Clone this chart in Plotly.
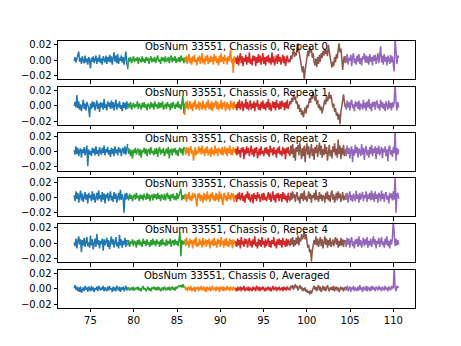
import numpy as np
import plotly.graph_objects as go
from plotly.subplots import make_subplots

# Frequency edges of the six coarse-channel segments (x axis units)
seg_edges = [73.12, 79.3, 85.9, 91.8, 97.95, 104.45, 110.62]
seg_colors = ["#1f77b4", "#2ca02c", "#ff7f0e", "#d62728", "#8c564b", "#9467bd"]

titles = [
    "ObsNum 33551, Chassis 0, Repeat 0",
    "ObsNum 33551, Chassis 0, Repeat 1",
    "ObsNum 33551, Chassis 0, Repeat 2",
    "ObsNum 33551, Chassis 0, Repeat 3",
    "ObsNum 33551, Chassis 0, Repeat 4",
    "ObsNum 33551, Chassis 0, Averaged",
]
x_ticks = [75, 80, 85, 90, 95, 100, 105, 110]
y_ticks = [-0.02, 0.0, 0.02]
y_ticktext = ["\u22120.02", "0.00", "0.02"]

VALUE_UNIT = 1e-3  # values below are in units of 1e-3

# Repeat 0
r0_blue = [-1, 4, -3, 2, 6, 11, -2, 3, -5, 5, -1, -4, 6, -3, 2, -6, 4, 0, -11, 3, -2, 5, -4, 1, 6, -5, 3, -2, 7, -4, 2, -6, 5, 1, -3, 6, -5, 4, -2, 7, -3, 5, -6, 3, 10, -2, 6, -4, 8, -5, 3, -1, 6, -3, 4, -6, 2, 11, -4, -9]
r0_green = [-12, 3, -2, 4, -4, 1, 5, -3, 2, -1, 4, -5, 3, 0, -3, 5, -2, 2, -4, 4, -1, 3, -5, 1, 5, -3, 2, -2, 4, -4, 3, 6, -2, 1, -5, 4, -1, 3, -3, 5, -2, 0, 4, -4, 2, 6, -3, 3, -1, 5, -4, 2, -2, 4, -3, 6, -1, 3, -4, 4]
r0_orange = [4, -3, 6, -5, 2, 8, -4, 3, -6, 5, -2, 7, -3, 1, -7, 4, -2, 6, -5, 3, 9, -4, 2, -6, 5, -1, 7, -5, 3, -3, 6, -2, 4, -6, 8, -1, 5, -4, 2, -7, 6, -3, 9, -2, 4, -5, 7, -1, 3, -6, 5, -2, 6, 14, -4, 2, -17, 5, -3, 4]
r0_red = [3, -5, 6, -7, 2, 9, -4, 5, -8, 3, -2, 7, -6, 4, -3, 10, -5, 2, -7, 6, -1, 5, -8, 4, -4, 8, -3, 6, -6, 2, 9, -5, 4, -7, 5, -2, 7, -4, 3, -6, 10, -3, 5, -7, 2, 6, -5, 8, -2, 4, -6, 3, 7, -4, 5, -8, 2, 6, -3, 1]
r0_brown = [2, -3, 6, 1, 9, 15, 4, 10, 6, 14, 22, 12, 4, -5, -10, -16, -8, -26, -14, -4, 6, 12, 5, 18, 10, 14, 3, 9, -2, -7, 2, -9, 4, -5, 7, -2, 9, 3, 12, 6, 15, 8, 13, 5, 20, 9, 4, -3, -10, -2, -8, 4, -3, 8, 2, 14, 22, 10, 15, 3, -13, 0, 5, -4]
r0_purple = [5, -3, 8, -6, 3, -1, 7, -8, 4, 9, -4, 2, -6, 6, -2, 8, -5, 3, -7, 5, 1, 9, -3, 6, -4, 5, -6, 8, -2, 4, -7, 6, -1, 7, -5, 3, 9, -4, 5, 18, -3, 6, -6, 8, -2, 4, -7, 6, 1, -5, 7, -3, 5, -8, -15, 30, 4, -5, 6, 3]

# Repeat 1
r1_blue = [0, 5, -2, 14, -3, 6, -5, 2, -7, 4, 8, -4, 3, -6, 5, 1, -3, -15, 3, -4, 6, -2, 5, -6, 1, 7, -4, 3, -8, 5, -2, 4, -5, 9, -3, 2, -6, 6, -1, 4, -4, 7, -3, 5, -6, 2, 8, -5, 3, -2, 6, -4, 1, -7, 5, -3, 4, -5, 6, -2]
r1_green = [-4, 3, -2, 5, -5, 1, 4, -3, 2, -1, 6, -4, 3, 0, -5, 4, -2, 5, -3, 2, -6, 3, 1, -4, 5, -2, 3, -5, 6, -1, 2, -4, 5, -3, 4, -2, 6, -5, 1, 3, -4, 5, -1, 2, -6, 4, -3, 5, 0, -4, 3, -2, 6, -3, 2, -5, 4, 13, -10, 3]
r1_orange = [-12, 5, -3, 7, -5, 2, 6, -4, 3, -7, 5, -1, 8, -5, 2, -3, 6, -6, 4, 1, -5, 7, -3, 2, -6, 5, -2, 8, -4, 3, -5, 6, -7, 4, -2, 3, 7, -4, 5, -6, 2, -3, 8, -5, 4, -1, 6, -7, 3, 5, -4, 2, -6, 7, -2, 4, -5, 6, -3, 2]
r1_red = [2, -6, 5, -3, 8, -5, 1, 6, -7, 3, -2, 9, -4, 5, -6, 2, 7, -5, 3, -3, 6, -7, 4, -1, 8, -5, 2, -6, 5, -3, 7, -4, 3, -6, 5, -2, 9, -5, 4, -7, 2, 6, -3, 5, -6, 8, -2, 3, -5, 6, -4, 7, -1, 4, -6, 5, -3, 8, -4, 2]
r1_brown = [0, 6, 2, 10, 5, 15, 8, 12, 3, 6, -4, 2, -8, -3, -12, -6, -15, -9, -2, -10, 1, -3, 6, 10, 4, 14, 9, 18, 12, 7, 13, 2, 8, -3, 2, -6, -1, -10, -4, 3, 8, 2, 13, 6, 10, 18, 9, 14, 4, -2, 3, -8, -3, -13, -9, -18, -11, -24, -8, 2, 6, 15, 4, -2]
r1_purple = [3, -5, 7, -2, 5, -6, 4, 8, -3, 2, -7, 6, -1, 5, -4, 7, -6, 3, 1, -5, 8, -3, 4, -6, 6, -2, 9, -4, 3, -7, 5, -1, 6, -5, 4, 7, -3, 2, -6, 8, -2, 5, -4, 3, -7, 6, 1, -5, 7, -3, 4, -6, 5, -2, 6, 30, 4, -6, 5, -2]

# Repeat 2
r2_blue = [2, -4, 7, -3, 5, -6, 1, 4, -8, 3, -2, 6, -5, 2, 8, -19, 3, -4, 1, -6, 5, -2, 4, -5, 7, -3, 2, -6, 6, 0, -4, 5, -2, 8, -5, 3, -1, 6, -4, 2, -7, 5, -3, 4, -6, 7, -2, 3, -5, 6, -1, 4, -6, 2, 5, -3, 7, -4, 3, 10]
r2_green = [6, -3, 4, -6, 2, -9, 3, -2, 5, -4, 1, 4, -5, 3, -8, 2, -1, 5, -3, 4, -6, 2, 3, -4, 6, -2, 1, -5, 4, -3, 5, -7, 2, 6, -4, 3, -2, 5, -6, 1, 4, -3, 6, -9, 2, 3, -5, 4, -1, 5, -4, 2, -6, 3, 5, -2, 4, -5, 6, 3]
r2_orange = [3, -4, 6, -2, 5, -6, 4, 7, -3, 2, -12, 4, 6, -5, 1, -3, 7, -1, 5, -4, 8, -2, 3, -6, 5, -2, 7, -5, 1, 4, -7, 6, -3, 2, -5, 8, -2, 4, -6, 5, -1, 3, -4, 6, -5, 2, 7, -3, 4, -6, 5, -2, 8, -4, 3, -5, 6, -1, 4, -3]
r2_red = [4, -5, 7, -3, 2, -8, 5, -1, 6, -10, 3, -4, 7, -2, 5, -6, 1, 8, -4, 3, -7, 5, -2, 6, -9, 2, 4, -5, 7, -3, 1, -6, 5, -2, 6, -4, 3, -7, 8, -1, 4, -5, 6, -3, 2, -8, 5, -2, 7, -4, 1, -6, 6, -3, 4, -10, 5, -2, 6, -4]
r2_brown = [2, -6, 8, -3, 10, -8, 4, -12, 6, 0, 9, -5, 12, -2, -10, 5, -6, 8, -14, 3, 11, -4, 7, -9, 2, 10, -6, 4, -11, 6, -2, 9, -7, 5, 12, -4, 8, -8, 3, -5, 10, -3, 6, -12, 4, 9, -6, 2, -9, 7, -1, 11, -5, 4, -8, 16, -3, 8, -10, 5, -4, 9, -6, 2]
r2_purple = [4, -6, 8, -3, 5, -9, 2, 7, -14, 3, -5, 9, -2, 6, -8, 4, 1, -6, 10, -4, 5, -11, 3, 7, -5, 2, -8, 6, -3, 9, -6, 4, -2, 7, -10, 5, -3, 8, -5, 2, 6, -9, 4, -1, 7, -6, 3, -13, 5, 8, -4, 2, -7, 6, -2, 30, -12, 5, -4, 3]

# Repeat 3
r3_blue = [3, -5, 8, -2, 6, -7, 1, 9, -4, 5, -6, 2, 7, -3, 4, -8, 6, -1, 3, -5, 8, -3, 5, -7, 2, 6, -4, 9, -2, 3, -6, 7, -3, 5, -8, 4, -1, 6, -5, 3, 8, -4, 2, -6, 7, -2, 5, -7, 3, 6, -4, 10, -3, 4, -2, -20, 5, -3, 6, -2]
r3_green = [2, -4, 5, -2, 3, -5, 1, 4, -3, 6, -1, 2, -5, 4, -2, 3, -4, 5, 0, -3, 6, -2, 4, -5, 2, 3, -4, 5, -1, 4, -3, 6, -2, 3, -5, 4, 1, -3, 5, -4, 2, 6, -2, 3, -5, 4, -1, 5, -3, 2, -4, 6, -2, 3, 5, 11, -4, 3, -2, 4]
r3_orange = [-3, 5, -6, 4, -2, 7, -4, 2, -5, 6, -1, 3, 5, -4, -12, 5, -1, 6, -5, 3, 1, -7, 6, -3, 4, -5, 8, -2, 3, -6, 5, -1, 7, -4, 2, -5, 6, -3, 4, -6, 8, -2, 5, -3, -10, 4, 6, -4, 2, -5, 7, -2, 3, -4, 6, -1, 5, -6, 3, -2]
r3_red = [3, -6, 5, -2, 7, -4, 1, 6, -5, 2, -7, 4, -1, 8, -3, 5, -6, 2, 4, -8, 6, -2, 3, -5, 7, -1, 4, -6, 2, 5, -4, 6, -3, 1, -5, 4, 7, -3, 5, -6, 2, 8, -4, 3, -7, 5, -1, 6, -5, 3, 4, -6, 7, -2, 5, -4, 2, -7, 6, -3]
r3_brown = [2, -5, 6, -3, 8, -1, 4, -6, 3, 7, -4, 1, -8, 5, -2, 6, -5, 9, -3, 2, -6, 4, 8, -2, 5, -7, 3, -1, 6, -4, 10, -3, 2, -6, 7, -2, 4, -5, 3, 1, -7, 6, -2, 8, -4, 3, -6, 5, 9, -3, 4, -7, 2, 6, -4, 8, -1, 5, -6, 3, 7, -4, 2, -3]
r3_purple = [5, -3, 6, -7, 2, 8, -4, 3, -6, 5, 1, -5, 9, -2, 4, -7, 6, -3, 2, 7, -5, 3, -1, 8, -6, 4, -2, 6, -4, 9, -3, 5, -6, 8, -2, 4, -7, 6, 3, -5, 9, -2, 5, -6, 4, 7, -3, 2, -8, 6, -1, 5, -4, 8, -3, 30, -20, 4, 6, -2]

# Repeat 4
r4_blue = [1, -4, 6, -7, 3, 9, -2, 5, -12, 4, -3, 7, -5, 2, 8, -4, 1, -6, 10, -3, 5, -8, 2, 6, -5, 12, -2, 4, -7, 3, -1, 6, -10, 5, -3, 2, 7, -5, 4, -8, 3, 9, -2, 5, -6, 2, 8, -4, 1, -7, 11, -3, 5, -6, 3, -2, 7, -5, 4, 2]
r4_green = [-3, 4, -5, 2, -1, 5, -4, 3, 1, -6, 4, -2, 5, -3, 2, -5, 6, -1, 3, -4, 5, -2, 1, -5, 4, -3, 6, -2, 3, -4, 5, -1, 2, -5, 4, -3, 6, -2, 1, -4, 5, -3, 3, -1, 6, -5, 2, 4, -3, 5, -2, 3, -4, 5, 14, -17, 4, -2, 3, -1]
r4_orange = [5, -4, 7, -2, 3, -6, 6, -1, 4, -7, 2, 5, -3, 8, -5, 1, -4, 6, -2, 3, -6, 7, -3, 2, 5, -5, 4, -1, 6, -7, 3, -2, 5, -4, 7, -3, 2, -6, 6, -1, 4, -5, 8, -2, 3, -6, 5, -3, 7, -4, 2, -5, 6, -2, 4, -7, 5, -1, 3, -4]
r4_red = [2, -5, 6, -3, 4, -7, 8, -2, 3, -5, 6, -1, 5, -6, 2, 7, -4, 3, -6, 5, -2, 9, -4, 1, -7, 6, -3, 4, -5, 8, -2, 3, -6, 5, -4, 2, 7, -5, 3, -6, 4, -1, 8, -4, 2, -7, 5, -2, 6, -3, 4, -6, 7, -2, 3, -5, 6, -4, 5, -2]
r4_brown = [3, -4, 6, -2, 8, -5, 4, -3, 7, -1, 10, -3, 7, 2, 12, 5, 9, 16, 5, 12, 3, -6, -2, -12, -8, -24, -10, -4, 4, -2, 9, -3, 6, -5, 2, 8, -4, 5, -7, 3, 9, -2, 6, -6, 4, -3, 7, -5, 2, 5, -4, 3, 8, -2, 6, -6, 3, -4, 7, -3, 5, -5, 4, 2]
r4_purple = [4, -5, 7, -2, 6, -6, 3, 8, -4, 2, -7, 5, -1, 6, -5, 9, -3, 4, -6, 2, 7, -4, 5, -2, 8, -6, 3, -3, 6, -5, 4, 9, -2, 5, -7, 3, -1, 7, -5, 4, 8, -3, 2, -6, 6, -2, 9, -4, 3, -7, 5, -2, 6, 30, 5, -4, 6, -3, 4, -2]

# Averaged
avg_blue = [1, 5, -1, 3, -3, 2, -4, 3, -5, 0, 2, -3, 4, -1, 2, -4, 3, 0, -3, 4, -2, 2, -4, 1, -1, 3, -3, 4, 0, -2, 2, -1, 4, -3, 2, 0, -3, 3, -2, 4, -1, 1, -4, 3, -2, 2, -3, 4, 1, -2, 3, -4, 2, -1, 3, -3, 1, 4, -2, 2]
avg_green = [-1, 2, -2, 1, 2, -2, 3, -2, 0, 2, -1, 3, -2, 1, -3, 2, 3, -1, 1, -3, 0, 3, -2, 1, -3, 2, 0, 3, -1, 2, -2, 3, -1, 2, -3, 1, 2, -2, 3, 0, -2, 2, -1, 3, -2, 1, 3, -1, 2, -2, 3, 1, 2, 4, 3, 5, 2, 6, 2, 4]
avg_orange = [3, -1, 2, -3, 3, 0, -2, 4, -3, 1, -2, 3, -4, 2, 0, 3, -3, 2, -1, 4, -2, 0, 3, -3, 2, -4, 3, 0, -2, 3, -3, 1, 4, -2, 0, 2, -3, 3, -1, 2, -4, 3, 1, -2, 3, -3, 2, 0, -2, 4, -1, 2, -3, 3, 0, -2, 3, -1, 2, -3]
avg_red = [1, -3, 3, -2, 0, 3, -3, 2, -1, 4, -3, 0, 2, -2, 3, -3, 1, 0, -3, 3, -1, 2, -3, 4, 0, -2, 3, -3, 2, -1, 3, 0, -3, 2, -2, 1, 3, -2, 2, -3, 1, 4, -2, 0, 3, -3, 2, -1, 3, -2, 0, 2, -3, 3, -1, 2, -2, 3, 0, -1]
avg_brown = [2, -2, 4, 1, 5, -1, 3, 6, 1, 4, -2, 2, 5, 0, 3, -3, 1, -2, 2, -4, -1, -5, -3, -7, -2, -6, -1, 1, 4, -1, 3, -3, 2, 5, -2, 3, -4, 1, 4, -2, 3, -3, 2, 5, 0, -3, 2, -1, 3, -2, 4, -3, 1, 3, -2, 2, -4, 1, 3, -1, 2, -3, 1, 0]
avg_purple = [3, -2, 4, -3, 1, 3, -4, 2, -1, 4, -3, 2, 0, -3, 3, -2, 5, -1, 2, -4, 3, 0, -2, 4, -3, 2, 1, -3, 3, -2, 4, -1, 2, -3, 3, 1, -2, 4, -1, 2, -3, 3, 0, -2, 4, -1, 2, -3, 3, 1, -2, 4, 1, 2, 30, 1, -3, 4, 2, 3]

panels = [
    [r0_blue, r0_green, r0_orange, r0_red, r0_brown, r0_purple],
    [r1_blue, r1_green, r1_orange, r1_red, r1_brown, r1_purple],
    [r2_blue, r2_green, r2_orange, r2_red, r2_brown, r2_purple],
    [r3_blue, r3_green, r3_orange, r3_red, r3_brown, r3_purple],
    [r4_blue, r4_green, r4_orange, r4_red, r4_brown, r4_purple],
    [avg_blue, avg_green, avg_orange, avg_red, avg_brown, avg_purple],
]

nrows = len(panels)
fig = make_subplots(rows=nrows, cols=1, shared_xaxes=True, vertical_spacing=0.02857)

for i, segs in enumerate(panels):
    for j, vals in enumerate(segs):
        x = np.linspace(seg_edges[j], seg_edges[j + 1], len(vals))
        y = np.array(vals, dtype=float) * VALUE_UNIT
        fig.add_trace(
            go.Scatter(x=x, y=y, mode="lines",
                       line=dict(color=seg_colors[j], width=1.5),
                       showlegend=False, hoverinfo="skip"),
            row=i + 1, col=1,
        )
    ax = "" if i == 0 else str(i + 1)
    fig.add_annotation(
        text=titles[i], x=0.5, y=1, xref=f"x{ax} domain", yref=f"y{ax} domain",
        xanchor="center", yanchor="top", showarrow=False, yshift=2,
        font=dict(family="DejaVu Sans", size=10, color="black"),
    )

fig.update_xaxes(
    range=[71.25, 112.5], tickvals=x_ticks, ticks="outside", ticklen=3.5,
    tickwidth=0.8, tickcolor="black", showline=True, mirror=True,
    linecolor="black", linewidth=0.8, showgrid=False, zeroline=False,
)
fig.update_yaxes(
    range=[-0.025, 0.025], tickvals=y_ticks, ticktext=y_ticktext,
    ticks="outside", ticklen=3.5, tickwidth=0.8, tickcolor="black",
    showline=True, mirror=True, linecolor="black", linewidth=0.8,
    showgrid=False, zeroline=False,
)

fig.update_layout(
    width=461, height=346,
    margin=dict(l=58, r=46, t=41, b=38, pad=0),
    plot_bgcolor="white", paper_bgcolor="white",
    font=dict(family="DejaVu Sans", size=10, color="black"),
    showlegend=False,
)

fig.write_html("out.html")
